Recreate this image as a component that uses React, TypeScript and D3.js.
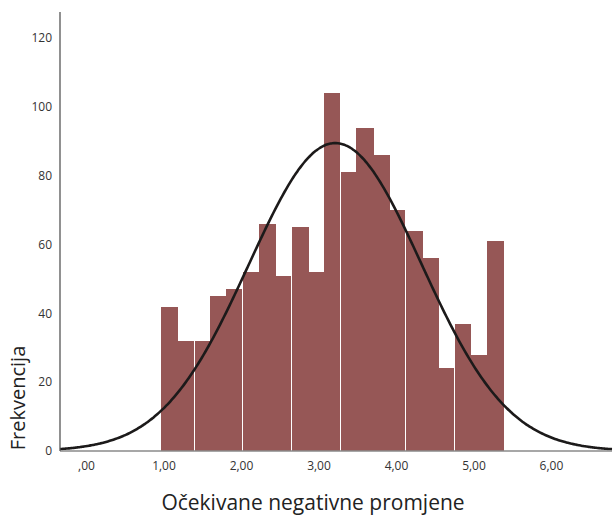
import { useMemo } from 'react'
import * as d3 from 'd3'

// histogram bins (counts)
const binStart = 0.961
const binWidth = 0.2102
const counts = [42, 32, 32, 45, 47, 52, 66, 51, 65, 52, 104, 81, 94, 86, 70, 64, 56, 24, 37, 28, 61]
// bin edges where SPSS shows a thin white seam
const seams = [2, 5, 8, 11, 15, 18]

// fitted normal curve
const mean = 3.21
const sd = 1.114

const xTicks = [0, 1, 2, 3, 4, 5, 6]
const yTicks = [0, 20, 40, 60, 80, 100, 120]
const xTitle = 'Očekivane negativne promjene'
const yTitle = 'Frekvencija'

const W = 615
const H = 516
const font = '"Open Sans", "DejaVu Sans", sans-serif'

export default function App() {
  const x = d3.scaleLinear().domain([-0.342, 6.781]).range([60, 612])
  const y = d3.scaleLinear().domain([0, 127.6]).range([451, 12])

  const n = d3.sum(counts)

  const curve = useMemo(() => {
    const [x0, x1] = x.domain()
    const pts = d3.range(0, 301).map((i) => {
      const v = x0 + ((x1 - x0) * i) / 300
      const z = (v - mean) / sd
      const f = (n * binWidth) / (sd * Math.sqrt(2 * Math.PI)) * Math.exp(-0.5 * z * z)
      return [v, f] as [number, number]
    })
    return d3.line<[number, number]>().x((d) => x(d[0])).y((d) => y(d[1])).curve(d3.curveBasis)(pts)
  }, [n])

  const fmt = (v: number) => (v === 0 ? ',00' : v.toFixed(2).replace('.', ','))

  return (
    <svg width={W} height={H} style={{ position: 'absolute', left: 0, top: 0, background: '#fff' }}>
      {/* bars */}
      <g shapeRendering="crispEdges">
        {counts.map((c, i) => {
          const a = Math.round(x(binStart + i * binWidth))
          const b = Math.round(x(binStart + (i + 1) * binWidth))
          return <rect key={i} x={a} y={y(c)} width={b - a + 1} height={y(0) - y(c)} fill="#965756" />
        })}
        {seams.map((e) => {
          const xe = Math.round(x(binStart + e * binWidth)) + 0.5
          const top = Math.max(counts[e - 1], counts[e])
          return <line key={e} x1={xe} x2={xe} y1={y(0)} y2={y(top)} stroke="#fff" strokeWidth={1} />
        })}
      </g>

      {/* normal curve */}
      <path d={curve || ''} fill="none" stroke="#1c1a1a" strokeWidth={2.6} />

      {/* axes */}
      <line x1={60} x2={612} y1={y(0)} y2={y(0)} stroke="#8a8a8a" strokeWidth={1.5} />
      <line x1={60} x2={60} y1={12} y2={y(0)} stroke="#555" strokeWidth={1.3} />

      {yTicks.map((t) => (
        <text key={t} x={52} y={y(t)} dy="0.35em" textAnchor="end" fontFamily={font} fontSize={12} fill="#333">
          {t}
        </text>
      ))}
      {xTicks.map((t) => (
        <text key={t} x={x(t)} y={470} textAnchor="middle" fontFamily={font} fontSize={12} fill="#333">
          {fmt(t)}
        </text>
      ))}

      <text x={313} y={510} textAnchor="middle" fontFamily={font} fontSize={21} fill="#222">
        {xTitle}
      </text>
      <text
        transform={`translate(25,398) rotate(-90)`}
        textAnchor="middle"
        fontFamily={font}
        fontSize={20}
        fill="#222"
      >
        {yTitle}
      </text>
    </svg>
  )
}
